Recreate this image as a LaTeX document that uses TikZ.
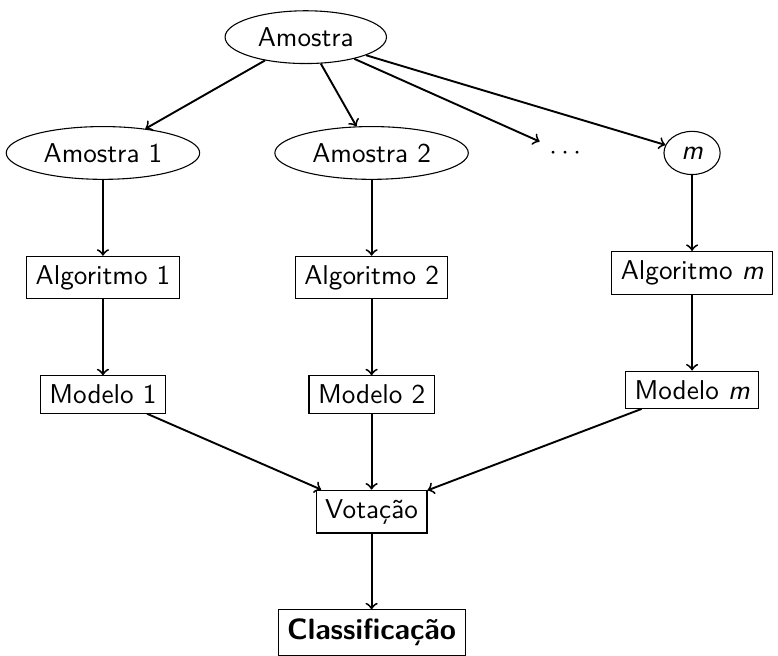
\documentclass[tikz,border=0pt]{standalone}
\usepackage{tikz}
\usetikzlibrary{positioning, arrows, calc, shapes.geometric}

\begin{document}
\begin{tikzpicture}[node distance=0.98cm, every node/.style={font=\sffamily},
        amostra/.style={draw, ellipse},
        caixa/.style={draw, rectangle}]
        \node[amostra] (a) {Amostra};
        \node[amostra, below=0.80cm of a, xshift=-2.62cm] (a1) {Amostra 1};
        \node[amostra, below=0.80cm of a, xshift=0.85cm] (a2) {Amostra 2};
        \node[right=0.915cm of a2] (dots) {$\cdots$};
        \node[amostra, right=0.94cm of dots] (am) {\textit{m}};

        \node[caixa, below=of a1] (alg1) {Algoritmo 1};
        \node[caixa, below=of a2] (alg2) {Algoritmo 2};
        \node[caixa, below=of am] (algm) {Algoritmo \textit{m}};

        \node[caixa, below=of alg1] (mod1) {Modelo 1};
        \node[caixa, below=of alg2] (mod2) {Modelo 2};
        \node[caixa, below=of algm] (modm) {Modelo \textit{m}};

        \node[caixa, below=of mod2] (vot) {Votação};
        \node[caixa, below=of vot, font=\sffamily\fontsize{10.8pt}{13pt}\selectfont] (cla) {\textbf{Classificação}};

        \draw[->, line width=0.7pt]
            (a) edge (a1)
            (a) edge (a2)
            (a) edge (dots)
            (a) edge (am)
            (a1) edge (alg1)
            (a2) edge (alg2)
            (am) edge (algm)
            (alg1) edge (mod1)
            (alg2) edge (mod2)
            (algm) edge (modm)
            (mod1) edge (vot)
            (mod2) edge (vot)
            (modm) edge (vot)
            (vot) edge (cla)
            ;

        \useasboundingbox ($(a)+(-3.95,0.48)$) rectangle ($(a)+(6.10,-7.94)$);
    \end{tikzpicture}
\end{document}
